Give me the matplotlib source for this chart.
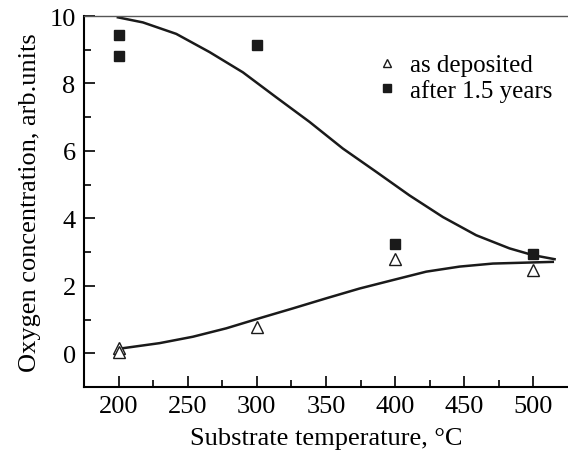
import matplotlib.pyplot as plt

plt.rcParams['font.family'] = ['Liberation Serif', 'DejaVu Serif']

# measured points
t_dep = [200, 200, 300, 400, 500]
c_dep = [0.17, 0.04, 0.77, 2.8, 2.48]
t_aged = [200, 200, 300, 400, 500]
c_aged = [9.44, 8.82, 9.13, 3.24, 2.93]

# guide curves
t_fit_aged = [199.5, 217.6, 241.7, 265.8, 289.9, 314.0, 338.1, 362.2, 386.3,
              410.4, 434.5, 458.6, 482.7, 499.6, 515.3]
c_fit_aged = [9.96, 9.81, 9.47, 8.93, 8.33, 7.59, 6.86, 6.07, 5.38,
              4.68, 4.04, 3.50, 3.11, 2.91, 2.79]
t_fit_dep = [203.1, 229.6, 253.7, 277.9, 302.0, 326.0, 350.2, 374.3, 398.3,
             422.5, 446.6, 470.7, 514.0]
c_fit_dep = [0.15, 0.30, 0.49, 0.74, 1.04, 1.33, 1.63, 1.92, 2.17,
             2.42, 2.57, 2.66, 2.71]

fig = plt.figure(figsize=(5.68, 4.64), dpi=100)
ax = fig.add_axes([84/568, 76/464, 484/568, 371/464])

ax.plot(t_fit_aged, c_fit_aged, color='#1a1a1a', lw=1.8)
ax.plot(t_fit_dep, c_fit_dep, color='#1a1a1a', lw=1.8)
ax.plot(t_dep, c_dep, ls='none', marker='^', ms=8, mfc='white', mec='#1a1a1a', mew=1.0,
        label='as deposited')
ax.plot(t_aged, c_aged, ls='none', marker='s', ms=7, color='#1a1a1a', label='after 1.5 years')

ax.set_xlim(175, 525)
ax.set_ylim(-1, 10)
ax.set_xticks([200, 250, 300, 350, 400, 450, 500])
ax.set_xticks(range(225, 525, 50), minor=True)
ax.set_yticks([0, 2, 4, 6, 8, 10])
ax.set_yticks([1, 3, 5, 7, 9], minor=True)
ax.tick_params(which='both', direction='in', width=1.2, labelsize=19)
ax.tick_params(which='major', length=8, pad=6)
ax.tick_params(which='minor', length=5)
ax.spines['right'].set_visible(False)
for s in ['left', 'bottom']:
    ax.spines[s].set_linewidth(1.5)
ax.spines['top'].set_linewidth(1.0)
ax.spines['top'].set_color('#555555')

ax.set_xlabel('Substrate temperature, °C', fontsize=19, labelpad=7)
ax.set_ylabel('Oxygen concentration, arb.units', fontsize=19, labelpad=6)

ax.legend(loc='upper left', bbox_to_anchor=(0.585, 0.925), frameon=False, fontsize=18,
          handlelength=0.8, handletextpad=0.5, labelspacing=0.1, borderaxespad=0,
          markerscale=0.75)

fig.savefig('out.png', dpi=100)
